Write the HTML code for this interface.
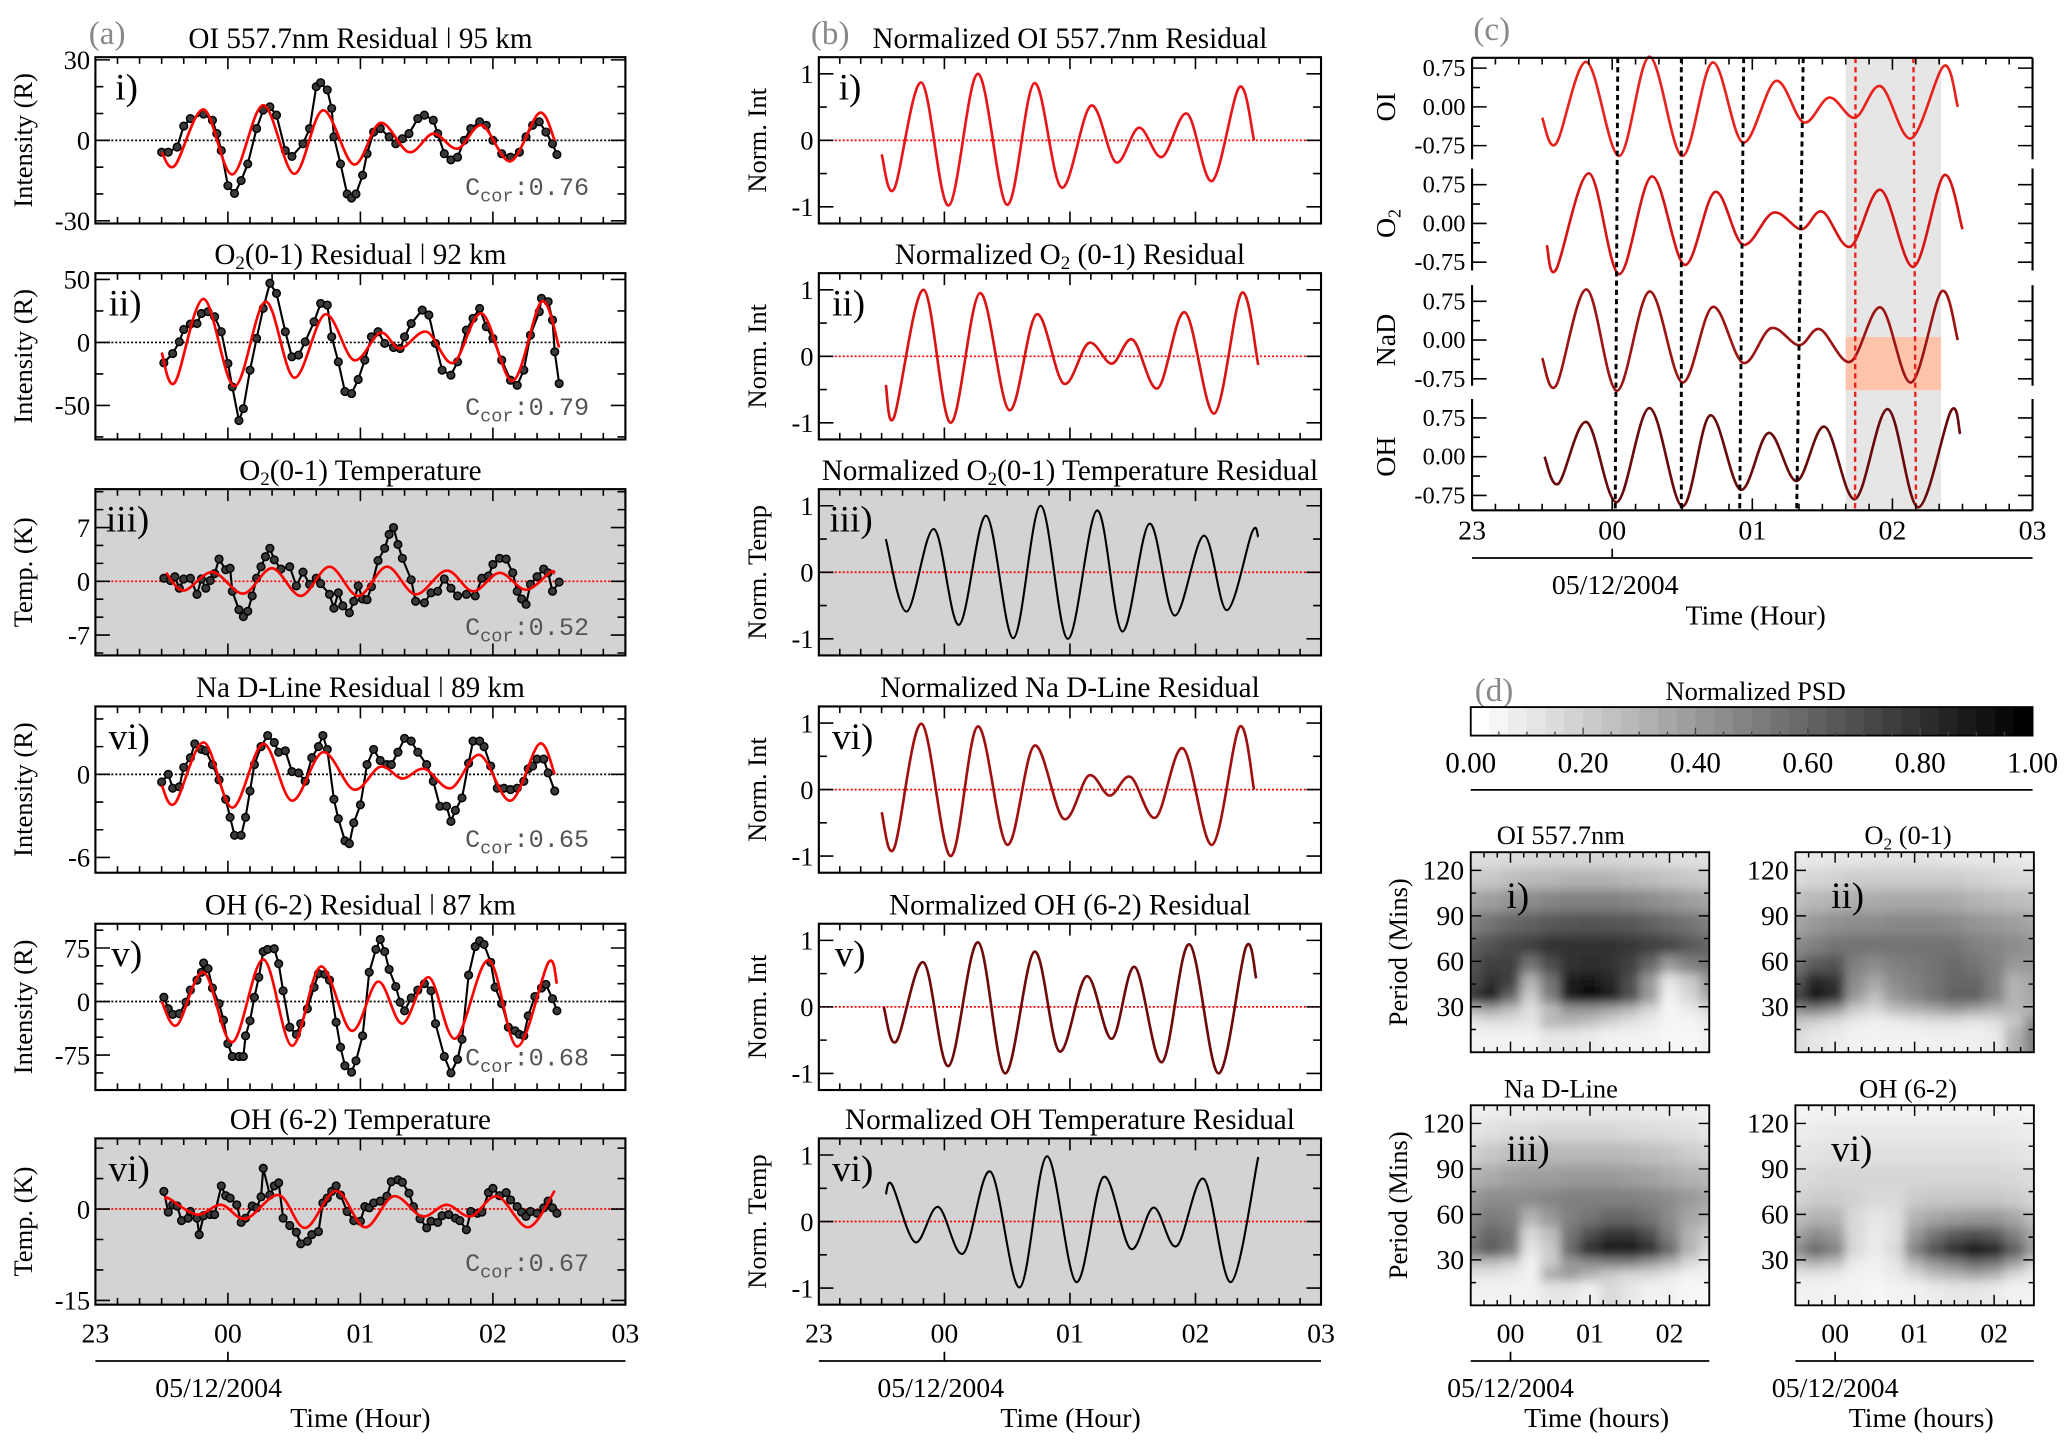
<!DOCTYPE html>
<html><head><meta charset="utf-8"><style>
html,body{margin:0;padding:0;background:#fff;}
svg{display:block;}
text{font-family:"Liberation Serif",serif;fill:#000;}
.mono{font-family:"Liberation Mono",monospace;fill:#555;}
.gl{fill:#888;}
</style></head><body>
<svg id="fig" xmlns="http://www.w3.org/2000/svg" width="2067" height="1446" viewBox="0 0 1560 1091">
<defs>
<filter id="hblur" x="-20%" y="-20%" width="140%" height="140%"><feGaussianBlur stdDeviation="4"/></filter>
</defs>
<text class="gl" x="67" y="33" font-size="25">(a)</text>
<text class="gl" x="612" y="33" font-size="25">(b)</text>
<text class="gl" x="1112" y="30" font-size="25">(c)</text>
<text class="gl" x="1113" y="529" font-size="25">(d)</text>
</svg>
<script>
// ===== Column (a): data (minutes after 23:00 UT) =====
const a1BlackT=[30,33,37,40,43,49,53,55,57,60,63,66,69,73,76,79,82,86,89,94,97,100,102,105,107,108,111,114,116,118,121,123,126,129,133,136,139,142,146,149,153,155,158,161,164,167,170,174,177,180,184,188,192,195,198,201,204,207,209];
const a1BlackV=[-4.4,-4.4,-2.5,5.3,8.1,9.8,7.5,2.5,-3.8,-16.9,-19.8,-15,-8.8,4.4,11.3,12.5,9.4,-3.8,-6,-1.3,4.4,20,21.5,18.8,11.9,1.3,-8.8,-20,-21.5,-20,-13,-5,3.1,4.4,1.3,-1.3,0.6,2.5,8.1,9.4,7.5,2.5,-5,-7.3,-6.3,0,4.4,6.9,5.6,0,-5,-6.3,-4.4,1.3,5.6,6.9,3.1,-1.3,-5.3];
const a1RedT=[30,36,49,62,76,90,103,117,129,142,153,164,175,188,201,208];
const a1RedV=[-4.4,-9.4,11.5,-12.7,13.1,-12.5,11.2,-9,6.5,-4.4,2.5,-3.1,5.6,-7.8,10.2,0];

const a2BlackT=[31,35,38,40,43,46,48,51,54,57,60,62,65,67,70,73,76,79,82,86,89,92,95,99,102,105,107,110,113,116,119,122,125,128,131,135,138,140,143,148,151,154,157,161,164,168,171,174,177,180,184,188,191,194,197,201,202,205,207,208,210];
const a2BlackV=[-16.2,-8.8,0.5,10.3,14.6,15,23,24.4,20.4,8.5,-16.7,-35.3,-62,-52.5,-22,3.2,27,47,39,8.5,-11.4,-10,0.5,16.4,31,29.7,4.5,-15.4,-39,-40.6,-29.4,-14,4.5,8.5,-0.8,-4,-4.8,4.5,15,25.7,21.8,-0.8,-22,-26,-15.4,9.8,19.1,27,12.5,3.2,-14,-30,-34,-22,5.8,24.4,35,32.4,17.8,-7.4,-32.6];
const a2RedT=[30,36,49,63,77,90,104,117,129,138,150,162,175,189,202,210];
const a2RedV=[-8,-31.8,34.5,-34.7,32.4,-28,22.3,-14,7.7,-4.8,8.5,-16.2,23,-30.5,32.4,-4];

const a3BlackT=[31,34,36,38,40,43,46,48,50,52,54,56,59,61,62,65,67,69,71,73,75,77,79,81,84,88,91,94,97,100,102,106,108,110,112,115,117,119,121,123,125,128,131,133,135,137,139,143,145,149,152,155,158,161,164,168,172,175,178,180,183,186,189,191,193,195,197,200,203,205,207,210];
const a3BlackV=[0.4,0.1,0.6,-0.9,0.3,0.4,-1.7,0.3,-0.9,0.1,1.0,2.9,1.5,1.7,-1.3,-3.7,-4.6,-3.9,-1.9,0.4,1.9,3.2,4.3,2.8,1.6,1.9,-0.6,1.2,-0.4,0.4,-0.3,-1.7,-3.5,-1.5,-3.2,-4.1,-2.6,-0.6,-2.3,-2.4,-0.7,2.7,4.3,6.1,7.0,4.8,3.0,0.2,-2.6,-2.8,-1.5,-1.3,0.3,-0.9,-1.9,-1.7,-1.9,0.4,0.7,2.2,3.0,2.9,1.1,-1.3,-2.3,-3.0,-0.4,0.6,1.6,1.1,-1.3,-0.1];
const a3RedT=[32,40,53,67,80,93,106,119,132,145,159,171,183,195,206,208];
const a3RedV=[1.1,-1.2,1.2,-1.6,1.7,-1.9,1.9,-1.9,1.9,-1.7,1.4,-1.3,1.1,-1.1,1.2,1.0];

const a4BlackT=[30,33,35,38,40,43,45,48,50,53,56,59,61,63,66,68,70,72,75,78,81,83,86,89,92,95,98,101,103,105,108,110,113,115,117,120,123,126,129,132,134,137,140,143,146,150,153,156,159,161,163,166,169,171,174,176,179,182,185,188,191,194,196,198,200,203,205,208];
const a4BlackV=[-0.55,0,-1.0,-0.9,0.5,1.2,2.2,1.8,1.7,0.7,-0.4,-1.8,-3.1,-4.4,-4.4,-3.1,-1.2,0.7,2.0,2.8,2.3,1.6,1.7,0.2,0.1,-0.5,1.2,2.0,2.8,1.8,-1.8,-3.2,-4.8,-5.0,-3.5,-2.2,0.7,1.8,1.0,0.7,0.7,1.6,2.6,2.4,1.6,0.7,-0.5,-2.3,-2.3,-3.4,-2.6,-1.7,0.8,2.4,2.4,2.0,0.6,-1.0,-1.0,-1.1,-1.0,-0.5,0.4,0.6,1.1,1.1,0.1,-1.2];
const a4RedT=[30,36,49,62,76,89,103,117,129,139,149,161,174,188,201,208];
const a4RedV=[-0.8,-2.1,2.3,-2.4,2.2,-1.9,1.6,-1.1,0.55,-0.3,0.4,-1.0,1.4,-1.9,2.2,0];

const a5BlackT=[31,33,35,38,41,43,46,48,49,51,53,56,58,60,62,65,67,68,70,72,74,76,78,81,83,85,88,91,93,96,99,101,104,106,109,111,113,116,118,121,124,127,129,131,133,136,138,140,143,146,149,152,154,158,161,164,166,169,172,174,176,179,181,184,187,190,192,194,196,199,202,204,207,209];
const a5BlackV=[6,-10,-18,-17,-1,16,30,41,54,46,19,-3,-26,-59,-77,-77,-77,-48,-27,6,34,70,73,74,53,15,-36,-46,-31,-10,20,39,38,30,-29,-64,-90,-99,-83,-48,41,73,87,70,45,21,-1,-13,5,16,25,15,-31,-77,-100,-81,-53,37,77,85,80,55,20,-3,-36,-41,-46,-48,-20,7,19,24,4,-13];
const a5RedT=[30,37,49,62,76,89,102,116,128,139,151,163,178,191,205,209];
const a5RedV=[0,-33,41,-57,59,-62,49,-41,28,-31,34,-52,58,-63,54,25];

const a6BlackT=[31,33,35,37,39,42,43,46,47,49,52,54,57,59,61,64,66,68,71,73,75,76,79,81,83,85,88,91,93,96,98,101,103,105,107,109,111,114,117,120,122,124,126,129,132,134,137,139,142,144,147,150,152,155,157,160,163,165,168,170,173,175,178,180,183,186,188,191,193,195,197,200,203,205,207,209];
const a6BlackV=[2.9,-0.5,0.7,0.5,-1.9,-1.5,-0.4,-1.5,-4.2,-1.1,-0.9,-0.9,3.8,2.2,1.8,0.7,-2.2,-1.5,0.5,0.2,2.0,6.7,2.3,3.8,4.3,-1.5,-2.7,-3.8,-5.7,-5.3,-4.2,-3.7,1.0,1.8,2.9,3.8,2.3,-0.4,-1.9,-2.0,0.4,0.2,1.0,1.3,2.1,4.5,4.8,4.4,2.6,0.4,-1.6,-3.1,-2.0,-2.2,-1.1,-0.9,-1.5,-1.9,-3.4,-0.4,-0.7,-0.5,2.7,3.4,2.2,2.7,1.5,0.4,-0.5,-1.2,-0.4,-0.7,0.2,1.3,0.2,-0.7];
const a6RedT=[32,33,46,57,68,83,95,109,122,135,148,159,170,182,196,208];
const a6RedV=[1.5,1.8,-0.9,0.7,-1.6,2.3,-3.1,3.0,-3.0,2.1,-1.2,0.7,-1.2,2.1,-3.0,3.0];

// ===== Column (b): normalized series =====
const b1T=[30,36,49,62,76,90,103,116,130,142,153,164,176,188,201,208];
const b1V=[-0.21,-0.73,0.87,-0.98,1.0,-0.97,0.86,-0.71,0.52,-0.33,0.19,-0.25,0.4,-0.61,0.8,0];
const b2T=[32,36,50,63,77,91,104,117,129,140,150,162,175,189,202,210];
const b2V=[-0.43,-0.91,1.0,-1.0,0.95,-0.81,0.63,-0.41,0.2,-0.11,0.25,-0.48,0.66,-0.86,0.95,-0.13];
const b3T=[32,42,55,67,80,93,106,119,133,145,158,170,184,195,207,210];
const b3V=[0.5,-0.59,0.65,-0.79,0.85,-0.99,1.0,-1.0,0.93,-0.89,0.73,-0.65,0.55,-0.57,0.6,0.53];
const b4T=[30,36,49,63,76,90,103,117,129,139,149,161,174,188,201,208];
const b4V=[-0.34,-0.88,0.99,-1.0,0.95,-0.83,0.66,-0.44,0.21,-0.09,0.19,-0.42,0.62,-0.83,0.94,0];
const b5T=[31,37,50,62,76,89,103,115,128,140,151,164,177,191,204,209];
const b5V=[0,-0.52,0.67,-0.89,0.97,-1.0,0.83,-0.67,0.46,-0.48,0.6,-0.83,0.94,-1.0,0.89,0.43];
const b6T=[32,35,46,57,69,82,96,109,123,136,149,160,171,184,197,210];
const b6V=[0.41,0.55,-0.31,0.22,-0.48,0.75,-0.99,0.98,-0.91,0.67,-0.41,0.21,-0.37,0.64,-0.91,0.97];

// ===== Column (c): stacked normalized series =====
const cOIT=[30,36,49,63,76,90,103,116,130,142,153,164,175,188,202,208];
const cOIV=[-0.21,-0.71,0.87,-0.95,0.97,-0.95,0.86,-0.69,0.5,-0.3,0.18,-0.21,0.4,-0.61,0.79,0];
const cO2T=[32,36,50,63,77,91,104,116,129,141,150,162,175,189,202,210];
const cO2V=[-0.42,-0.89,0.97,-0.98,0.91,-0.8,0.61,-0.41,0.21,-0.11,0.23,-0.45,0.65,-0.84,0.93,-0.11];
const cNaT=[30,36,49,62,76,90,103,116,128,140,149,162,175,188,201,208];
const cNaV=[-0.35,-0.88,0.98,-0.98,0.94,-0.82,0.64,-0.44,0.23,-0.1,0.21,-0.42,0.63,-0.82,0.94,0];
const cOHT=[31,37,49,62,76,90,102,115,127,139,151,164,178,191,205,209];
const cOHV=[0,-0.52,0.67,-0.88,0.94,-0.96,0.8,-0.64,0.46,-0.47,0.58,-0.82,0.92,-0.98,0.88,0.44];
const cBlackDashTop=[62.4,89.6,116.3,141.8];
const cBlackDashBot=[61.3,89.6,114.6,139.0];
const cRedDashTop=[164.2,189.0];
const cRedDashBot=[164.0,190.1];
const cShadeT=[160,200.8];
const cSalmonV=[0.06,-0.97];
const cTickVals=[0.75,0,-0.75];
const cTickLabels=['0.75','0.00','-0.75'];

// ===== Axis labels =====
const hourT=[0,60,120,180,240];
const hourLabels=['23','00','01','02','03'];
const hmHourT=[60,120,180];
const hmHourLabels=['00','01','02'];
const hmPeriodTicks=[120,90,60,30];
const cbTickVals=[0,0.2,0.4,0.6,0.8,1.0];
const cbTickLabels=['0.00','0.20','0.40','0.60','0.80','1.00'];

// ===== (d) wavelet power heatmaps =====
const hmTimes=[30,45,60,75,90,105,120,135,150,165,180,195,210];
const hmPeriods=[128,115,100,85,70,58,46,36,28,20,12];
const hmOI=[
[.12,.13,.14,.15,.16,.16,.16,.16,.15,.14,.13,.12,.12],
[.2,.22,.25,.27,.28,.3,.3,.3,.28,.26,.24,.22,.2],
[.35,.38,.42,.45,.48,.5,.5,.5,.48,.45,.42,.38,.35],
[.5,.55,.6,.62,.65,.67,.68,.67,.65,.62,.58,.55,.5],
[.62,.68,.72,.75,.8,.8,.8,.8,.78,.75,.72,.65,.6],
[.68,.75,.75,.55,.7,.8,.82,.8,.75,.6,.4,.5,.55],
[.7,.8,.75,.3,.55,.88,.9,.85,.7,.4,.1,.2,.4],
[.8,.9,.6,.2,.5,.92,.98,.9,.7,.4,.05,.15,.35],
[.3,.35,.25,.12,.25,.4,.4,.35,.28,.15,.04,.08,.15],
[.1,.12,.12,.1,.3,.3,.25,.18,.12,.08,.04,.04,.08],
[.05,.05,.05,.05,.1,.1,.08,.05,.05,.05,.03,.03,.05]];
const hmO2=[
[.08,.09,.1,.1,.11,.11,.11,.11,.1,.1,.1,.09,.08],
[.14,.16,.18,.2,.2,.2,.2,.2,.2,.18,.16,.15,.14],
[.25,.28,.3,.32,.33,.34,.34,.34,.33,.3,.28,.26,.25],
[.35,.4,.43,.45,.45,.47,.47,.47,.45,.42,.4,.38,.35],
[.45,.5,.55,.55,.55,.55,.55,.55,.55,.5,.48,.45,.42],
[.55,.65,.68,.5,.45,.5,.52,.55,.58,.55,.5,.4,.4],
[.65,.85,.8,.45,.35,.45,.5,.55,.6,.6,.5,.3,.35],
[.75,.95,.85,.4,.25,.4,.48,.55,.62,.62,.5,.3,.35],
[.45,.5,.4,.2,.15,.25,.3,.35,.4,.35,.3,.28,.3],
[.22,.18,.13,.08,.06,.08,.1,.12,.12,.1,.12,.22,.45],
[.15,.1,.08,.05,.05,.05,.05,.06,.06,.06,.08,.3,.5]];
const hmNa=[
[.06,.07,.08,.08,.09,.09,.09,.09,.09,.08,.08,.07,.06],
[.1,.12,.14,.15,.16,.16,.16,.16,.15,.14,.13,.12,.1],
[.18,.22,.25,.27,.28,.28,.28,.28,.27,.25,.23,.2,.18],
[.3,.33,.36,.38,.38,.4,.4,.4,.38,.36,.33,.3,.28],
[.4,.45,.45,.45,.48,.5,.5,.5,.5,.48,.45,.4,.35],
[.45,.52,.5,.3,.4,.5,.55,.6,.6,.55,.45,.35,.3],
[.5,.6,.55,.15,.25,.55,.7,.8,.8,.7,.5,.3,.2],
[.55,.65,.55,.1,.2,.6,.85,.95,.95,.85,.6,.3,.15],
[.25,.25,.2,.05,.2,.4,.45,.5,.5,.4,.3,.15,.08],
[.1,.1,.08,.05,.35,.4,.3,.2,.15,.15,.1,.05,.05],
[.05,.05,.05,.05,.1,.1,.05,.15,.1,.05,.05,.03,.03]];
const hmOH=[
[.04,.05,.05,.05,.05,.05,.05,.05,.05,.05,.05,.05,.04],
[.07,.08,.09,.09,.09,.09,.09,.09,.09,.09,.09,.08,.07],
[.1,.11,.12,.12,.12,.12,.12,.12,.12,.12,.12,.11,.1],
[.13,.15,.16,.16,.16,.16,.16,.16,.16,.16,.16,.15,.13],
[.16,.2,.2,.18,.15,.15,.2,.22,.22,.22,.22,.2,.16],
[.25,.3,.3,.15,.1,.12,.3,.35,.38,.4,.4,.35,.25],
[.35,.45,.4,.15,.08,.12,.4,.55,.65,.7,.65,.5,.35],
[.45,.6,.5,.15,.08,.15,.5,.7,.85,1,.9,.65,.4],
[.25,.3,.25,.08,.06,.1,.3,.42,.5,.6,.55,.38,.2],
[.1,.1,.08,.05,.05,.08,.15,.25,.3,.35,.3,.15,.08],
[.05,.05,.05,.05,.03,.05,.05,.08,.1,.1,.08,.05,.05]];

// ===== helpers =====
const NS='http://www.w3.org/2000/svg';
const svg=document.getElementById('fig');
function mk(tag,attrs,parent){const e=document.createElementNS(NS,tag);for(const k in attrs)e.setAttribute(k,attrs[k]);(parent||svg).appendChild(e);return e;}
function f(v){return v.toFixed(2);}
function splinePath(pts){
  let d='M'+f(pts[0][0])+','+f(pts[0][1]);
  for(let i=0;i<pts.length-1;i++){
    const p0=pts[i-1]||pts[i],p1=pts[i],p2=pts[i+1],p3=pts[i+2]||pts[i+1];
    const c1x=p1[0]+(p2[0]-p0[0])/6,c1y=p1[1]+(p2[1]-p0[1])/6;
    const c2x=p2[0]-(p3[0]-p1[0])/6,c2y=p2[1]-(p3[1]-p1[1])/6;
    d+='C'+f(c1x)+','+f(c1y)+' '+f(c2x)+','+f(c2y)+' '+f(p2[0])+','+f(p2[1]);
  }
  return d;
}
function addText(str,x,y,size,anchor,name,cls){
  const t=mk('text',{x:x,y:y,'font-size':size,'text-anchor':anchor||'start'});
  if(cls)t.setAttribute('class',cls);
  t.textContent=str;
  
  
  return t;
}
function addRichTitle(parts,x,y,size,name){
  const t=mk('text',{x:x,y:y,'font-size':size,'text-anchor':'middle'});
  
  
  parts.forEach(p=>{const s=mk('tspan',{},t);s.textContent=p[0];if(p[1]){s.setAttribute('font-size',size*0.65);s.setAttribute('dy',4);}else if(p[2]){s.setAttribute('dy',-4);}});
  return t;
}
function addRotLabel(parts,cx,cy,size,name){
  const t=mk('text',{x:0,y:0,'font-size':size,'text-anchor':'middle',transform:'translate('+cx+','+cy+') rotate(-90)'});
  
  
  parts.forEach(p=>{const s=mk('tspan',{},t);s.textContent=p[0];if(p[1]){s.setAttribute('font-size',size*0.65);s.setAttribute('dy',4);}else if(p[2]){s.setAttribute('dy',-4);}});
  return t;
}

// generic time-series panel
function tsPanel(cfg){
  const x0=cfg.x0,x1=cfg.x1,top=cfg.top,h=cfg.h,bot=top+h;
  const xs=m=>x0+m*(x1-x0)/240;
  const ys=v=>bot-(v-cfg.ymin)*h/(cfg.ymax-cfg.ymin);
  const g=mk('g',{});
  
  
  const bg=mk('rect',{x:x0,y:top,width:x1-x0,height:h,fill:cfg.bg},g);
  
  
  const z=mk('line',{x1:x0,x2:x1,y1:ys(0),y2:ys(0),stroke:cfg.zeroColor,'stroke-width':1.3,'stroke-dasharray':'1.5,1.5'},g);
  
  
  for(let m=10;m<240;m+=10){
    const L=(m%60===0)?9:5;
    const tk=mk('path',{d:'M'+xs(m)+','+bot+'v-'+L+'M'+xs(m)+','+top+'v'+L,stroke:'#000','stroke-width':1.2},g);
    
    
  }
  const st=cfg.minor;
  for(let k=Math.ceil(cfg.ymin/st-1e-6);k<=Math.floor(cfg.ymax/st+1e-6);k++){
    const v=k*st;const isMaj=cfg.major.some(q=>Math.abs(q-v)<1e-6);const L=isMaj?11:6;
    const tk=mk('path',{d:'M'+x0+','+ys(v)+'h'+L+'M'+x1+','+ys(v)+'h-'+L,stroke:'#000','stroke-width':1.2},g);
    
    
  }
  cfg.major.forEach((v,i)=>{
    addText(cfg.majorLabels[i],x0-4,ys(v)+7,20,'end','y-tick-label');
  });
  cfg.series.forEach(s=>{
    const pts=s.t.map((m,i)=>[xs(m),ys(s.v[i])]);
    if(s.kind==='dots'){
      const pl=mk('polyline',{points:pts.map(p=>f(p[0])+','+f(p[1])).join(' '),fill:'none',stroke:'#000','stroke-width':1.6},g);
      
      
      pts.forEach(p=>{
        const c=mk('circle',{cx:f(p[0]),cy:f(p[1]),r:2.9,fill:'#3a3a3a',stroke:'#000','stroke-width':1.1},g);
        
        
      });
    }else{
      const pa=mk('path',{d:splinePath(pts),fill:'none',stroke:s.color,'stroke-width':s.w||2,'stroke-linejoin':'round'},g);
      
      
    }
  });
  const fr=mk('rect',{x:x0,y:top,width:x1-x0,height:h,fill:'none',stroke:'#000','stroke-width':1.6},g);
  
  
  addText(cfg.tag,x0+(cfg.tagDx||15),top+32,28,'start','subpanel-label');
  if(cfg.ccor){
    const t=mk('text',{x:x0+279,y:top+cfg.ccorDy,'font-size':19,class:'mono'});
    
    
    const s1=mk('tspan',{},t);s1.textContent='C';
    const s2=mk('tspan',{dy:5,'font-size':14},t);s2.textContent='cor';
    const s3=mk('tspan',{dy:-5},t);s3.textContent=':'+cfg.ccor;
  }
  addRichTitle(cfg.title,(x0+x1)/2,top-7,22,'panel-title');
  addRotLabel(cfg.ylabel,cfg.ylabelX,top+h/2,20,'y-axis-title');
}
function timeAxis(x0,x1,labelsT,labels,lineY,name,dateX,dateLabelX,timeLabel,timeX,tickM,span,startM){
  const xs=m=>x0+(m-startM)*(x1-x0)/span;
  labelsT.forEach((m,i)=>addText(labels[i],xs(m),lineY-14,21,'middle','x-tick-label'));
  const ln=mk('path',{d:'M'+x0+','+lineY+'H'+x1+'M'+xs(tickM)+','+lineY+'v-7',stroke:'#000','stroke-width':1.3});
  
  
  addText('05/12/2004',dateLabelX,lineY+27,21,'middle','date-label');
  addText(timeLabel,timeX,lineY+50,21,'middle','x-axis-title');
}

// ===== draw column (a) =====
const aTops=[43,206,369,533,697,859];
const A={x0:72,x1:472,h:125.5,ylabelX:24};
const aCfgs=[
 {name:'oi-residual-panel',ymin:-31,ymax:31,major:[30,0,-30],majorLabels:['30','0','-30'],minor:10,bg:'#fff',zeroColor:'#000',tag:'i)',ccor:'0.76',ccorDy:104,title:[['OI 557.7nm Residual  ǀ  95 km']],ylabel:[['Intensity (R)']],series:[{t:a1BlackT,v:a1BlackV,kind:'dots'},{t:a1RedT,v:a1RedV,color:'#f00',name:'model-fit-line'}]},
 {name:'o2-residual-panel',ymin:-77,ymax:55,major:[50,0,-50],majorLabels:['50','0','-50'],minor:25,bg:'#fff',zeroColor:'#000',tag:'ii)',tagDx:10,ccor:'0.79',ccorDy:107,title:[['O'],['2',1],['(0-1) Residual  ǀ  92 km',0,1]],ylabel:[['Intensity (R)']],series:[{t:a2BlackT,v:a2BlackV,kind:'dots'},{t:a2RedT,v:a2RedV,color:'#f00',name:'model-fit-line'}]},
 {name:'o2-temperature-panel',ymin:-9.65,ymax:12,major:[7,0,-7],majorLabels:['7','0','-7'],minor:7/3,bg:'#d3d3d3',zeroColor:'#f00',tag:'iii)',tagDx:8,ccor:'0.52',ccorDy:110,title:[['O'],['2',1],['(0-1) Temperature',0,1]],ylabel:[['Temp. (K)']],series:[{t:a3BlackT,v:a3BlackV,kind:'dots'},{t:a3RedT,v:a3RedV,color:'#f00',name:'model-fit-line'}]},
 {name:'na-residual-panel',ymin:-7.1,ymax:4.9,major:[0,-6],majorLabels:['0','-6'],minor:2,bg:'#fff',zeroColor:'#000',tag:'vi)',tagDx:10,ccor:'0.65',ccorDy:106,title:[['Na D-Line Residual  ǀ  89 km']],ylabel:[['Intensity (R)']],series:[{t:a4BlackT,v:a4BlackV,kind:'dots'},{t:a4RedT,v:a4RedV,color:'#f00',name:'model-fit-line'}]},
 {name:'oh-residual-panel',ymin:-124,ymax:109,major:[75,0,-75],majorLabels:['75','0','-75'],minor:25,bg:'#fff',zeroColor:'#000',tag:'v)',tagDx:12,ccor:'0.68',ccorDy:107,title:[['OH (6-2) Residual  ǀ  87 km']],ylabel:[['Intensity (R)']],series:[{t:a5BlackT,v:a5BlackV,kind:'dots'},{t:a5RedT,v:a5RedV,color:'#f00',name:'model-fit-line'}]},
 {name:'oh-temperature-panel',ymin:-15.7,ymax:11.6,major:[0,-15],majorLabels:['0','-15'],minor:5,bg:'#d3d3d3',zeroColor:'#f00',tag:'vi)',tagDx:10,ccor:'0.67',ccorDy:100,title:[['OH (6-2) Temperature']],ylabel:[['Temp. (K)']],series:[{t:a6BlackT,v:a6BlackV,kind:'dots'},{t:a6RedT,v:a6RedV,color:'#f00',name:'model-fit-line'}]}
];
aCfgs.forEach((c,i)=>tsPanel(Object.assign({},A,c,{top:aTops[i]})));
timeAxis(72,472,hourT,hourLabels,1027,'time-axis-a',0,165,'Time (Hour)',272,60,240,0);

// ===== draw column (b) =====
const B={x0:618,x1:997,h:125.5,ylabelX:578,ymin:-1.25,ymax:1.25,major:[1,0,-1],majorLabels:['1','0','-1'],minor:0.5,zeroColor:'#f00'};
const bCfgs=[
 {name:'norm-oi-panel',bg:'#fff',tag:'i)',title:[['Normalized OI 557.7nm Residual']],ylabel:[['Norm. Int']],series:[{t:b1T,v:b1V,color:'#e8161b',name:'norm-oi-line'}]},
 {name:'norm-o2-panel',bg:'#fff',tag:'ii)',tagDx:10,title:[['Normalized O'],['2',1],[' (0-1) Residual',0,1]],ylabel:[['Norm. Int']],series:[{t:b2T,v:b2V,color:'#d81414',name:'norm-o2-line'}]},
 {name:'norm-o2-temp-panel',bg:'#d3d3d3',tag:'iii)',tagDx:8,title:[['Normalized O'],['2',1],['(0-1) Temperature Residual',0,1]],ylabel:[['Norm. Temp']],series:[{t:b3T,v:b3V,color:'#000',w:1.6,name:'norm-o2-temp-line'}]},
 {name:'norm-na-panel',bg:'#fff',tag:'vi)',tagDx:10,title:[['Normalized Na D-Line Residual']],ylabel:[['Norm. Int']],series:[{t:b4T,v:b4V,color:'#a01010',name:'norm-na-line'}]},
 {name:'norm-oh-panel',bg:'#fff',tag:'v)',tagDx:12,title:[['Normalized OH (6-2) Residual']],ylabel:[['Norm. Int']],series:[{t:b5T,v:b5V,color:'#6e0a0a',name:'norm-oh-line'}]},
 {name:'norm-oh-temp-panel',bg:'#d3d3d3',tag:'vi)',tagDx:10,title:[['Normalized OH Temperature Residual']],ylabel:[['Norm. Temp']],series:[{t:b6T,v:b6V,color:'#000',w:1.6,name:'norm-oh-temp-line'}]}
];
bCfgs.forEach((c,i)=>tsPanel(Object.assign({},B,c,{top:aTops[i]})));
timeAxis(618,997,hourT,hourLabels,1027,'time-axis-b',0,710,'Time (Hour)',808,60,240,0);

// ===== draw column (c) =====
(function(){
  const x0=1111,x1=1534,top=43.5,bot=385;
  const xs=m=>x0+m*(x1-x0)/240;
  const centers=[80.5,168.5,256.5,344.5];
  const segs=[[43.5,120],[127,204],[215,291],[301,385]];
  const k=39;
  const g=mk('g',{});
  
  
  const sh=mk('rect',{x:xs(cShadeT[0]),y:top,width:xs(cShadeT[1])-xs(cShadeT[0]),height:bot-top,fill:'#e6e6e6'},g);
  
  
  const sa=mk('rect',{x:xs(cShadeT[0]),y:centers[2]-cSalmonV[0]*k,width:xs(cShadeT[1])-xs(cShadeT[0]),height:(cSalmonV[0]-cSalmonV[1])*k,fill:'#fdc3ab'},g);
  
  
  const series=[[cOIT,cOIV,'#e8231e','oi-line'],[cO2T,cO2V,'#d51515','o2-line'],[cNaT,cNaV,'#9c1414','nad-line'],[cOHT,cOHV,'#6a0b0b','oh-line']];
  const names=[[['OI']],[['O'],['2',1]],[['NaD']],[['OH']]];
  series.forEach((s,i)=>{
    const cy=centers[i];
    const pts=s[0].map((m,j)=>[xs(m),cy-s[1][j]*k]);
    const p=mk('path',{d:splinePath(pts),fill:'none',stroke:s[2],'stroke-width':2},g);
    
    
    cTickVals.forEach((v,j)=>{
      const tk=mk('path',{d:'M'+x0+','+(cy-v*k)+'h11M'+x1+','+(cy-v*k)+'h-11',stroke:'#000','stroke-width':1.2},g);
      
      
      addText(cTickLabels[j],x0-5,cy-v*k+6,18.5,'end','y-tick-label');
    });
    [0.375,-0.375].forEach(v=>{
      const tk=mk('path',{d:'M'+x0+','+(cy-v*k)+'h6M'+x1+','+(cy-v*k)+'h-6',stroke:'#000','stroke-width':1.2},g);
      
      
    });
    const sg=mk('path',{d:'M'+x0+','+segs[i][0]+'V'+segs[i][1]+'M'+x1+','+segs[i][0]+'V'+segs[i][1],stroke:'#000','stroke-width':1.6},g);
    
    
    addRotLabel(names[i],1053,cy,21,'series-axis-title');
  });
  cBlackDashTop.forEach((m,i)=>{
    const l=mk('line',{x1:xs(m),y1:top,x2:xs(cBlackDashBot[i]),y2:bot,stroke:'#000','stroke-width':2.2,'stroke-dasharray':'4,3'},g);
    
    
  });
  cRedDashTop.forEach((m,i)=>{
    const l=mk('line',{x1:xs(m),y1:top,x2:xs(cRedDashBot[i]),y2:bot,stroke:'#e8231e','stroke-width':1.8,'stroke-dasharray':'4,3'},g);
    
    
  });
  for(let m=10;m<240;m+=10){
    const L=(m%60===0)?9:5;
    const tk=mk('path',{d:'M'+xs(m)+','+bot+'v-'+L+'M'+xs(m)+','+top+'v'+L,stroke:'#000','stroke-width':1.2},g);
    
    
  }
  const fr=mk('path',{d:'M'+x0+','+top+'H'+x1+'M'+x0+','+bot+'H'+x1,stroke:'#000','stroke-width':1.6},g);
  
  
  timeAxis(x0,x1,hourT,hourLabels,421,'time-axis-c',0,1219,'Time (Hour)',1325,60,240,0);
})();

// ===== (d) colorbar =====
(function(){
  const x0=1110,x1=1534,y0=533.5,y1=555;
  addText('Normalized PSD',1325,528,20,'middle','colorbar-title');
  const n=30;
  for(let i=0;i<n;i++){
    const v=i/(n-1);const gv=Math.round(255*(1-v));
    const r=mk('rect',{x:x0+i*(x1-x0)/n,y:y0,width:(x1-x0)/n+0.6,height:y1-y0,fill:'rgb('+gv+','+gv+','+gv+')'});
    
    
  }
  const fr=mk('rect',{x:x0,y:y0,width:x1-x0,height:y1-y0,fill:'none',stroke:'#000','stroke-width':1.4});
  
  
  for(let v=0.05;v<1;v+=0.05){
    const isMaj=Math.abs(v*5-Math.round(v*5))<1e-6;
    const tk=mk('path',{d:'M'+(x0+v*(x1-x0))+','+y1+'v-'+(isMaj?6:3),stroke:'#444','stroke-width':1});
    
    
  }
  cbTickVals.forEach((v,i)=>addText(cbTickLabels[i],x0+v*(x1-x0),583,22,'middle','colorbar-tick-label'));
  const ln=mk('line',{x1:x0,x2:x1,y1:596,y2:596,stroke:'#000','stroke-width':1.3});
  
  
})();

// ===== (d) heatmaps =====
function heatmap(cfg){
  const x0=cfg.x0,x1=cfg.x0+180,top=cfg.top,bot=cfg.top+151;
  const xs=m=>x0+(m-30)*(x1-x0)/180;
  const ys=p=>bot-p*(bot-top)/132;
  const clipId='clip-'+cfg.name;
  const cp=mk('clipPath',{id:clipId});
  mk('rect',{x:x0,y:top,width:x1-x0,height:bot-top},cp);
  const outer=mk('g',{'clip-path':'url(#'+clipId+')'});
  
  
  mk('rect',{x:x0,y:top,width:x1-x0,height:bot-top,fill:'#fff'},outer);
  const inner=mk('g',{filter:'url(#hblur)'},outer);
  const P=hmPeriods,T=hmTimes;
  for(let r=0;r<P.length;r++){
    const pTop=r===0?P[0]+40:(P[r-1]+P[r])/2;
    const pBot=r===P.length-1?-30:(P[r]+P[r+1])/2;
    for(let c=0;c<T.length;c++){
      const tL=c===0?T[0]-40:(T[c-1]+T[c])/2;
      const tR=c===T.length-1?T[c]+40:(T[c]+T[c+1])/2;
      const gv=Math.round(255*(1-cfg.data[r][c]));
      const cell=mk('rect',{x:f(xs(tL)),y:f(ys(pTop)),width:f(xs(tR)-xs(tL)+0.5),height:f(ys(pBot)-ys(pTop)+0.5),fill:'rgb('+gv+','+gv+','+gv+')'},inner);
      
      
    }
  }
  const g=mk('g',{});
  
  
  for(let m=40;m<210;m+=10){
    const L=(m%60===0)?8:4;
    const tk=mk('path',{d:'M'+xs(m)+','+bot+'v-'+L+'M'+xs(m)+','+top+'v'+L,stroke:'#000','stroke-width':1.1},g);
    
    
  }
  for(let p=15;p<=130;p+=15){
    const L=(p%30===0)?8:4;
    const tk=mk('path',{d:'M'+x0+','+ys(p)+'h'+L+'M'+x1+','+ys(p)+'h-'+L,stroke:'#000','stroke-width':1.1},g);
    
    
  }
  hmPeriodTicks.forEach(p=>addText(String(p),x0-5,ys(p)+7,21,'end','y-tick-label'));
  const fr=mk('rect',{x:x0,y:top,width:x1-x0,height:bot-top,fill:'none',stroke:'#000','stroke-width':1.4},g);
  
  
  addText(cfg.tag,x0+27,top+42,28,'start','subpanel-label');
  addRichTitle(cfg.title,cfg.titleX,top-6,20,'heatmap-title');
  if(cfg.ylabel)addRotLabel([['Period (Mins)']],1062,(top+bot)/2,20,'y-axis-title');
  if(cfg.axis)timeAxis(x0,x1,hmHourT,hmHourLabels,1027,'time-axis-d',0,x0+30,'Time (hours)',x0+95,60,180,30);
}
heatmap({name:'psd-oi',x0:1110,top:643,data:hmOI,tag:'i)',title:[['OI 557.7nm']],titleX:1178,ylabel:true});
heatmap({name:'psd-o2',x0:1355,top:643,data:hmO2,tag:'ii)',title:[['O'],['2',1],[' (0-1)',0,1]],titleX:1440});
heatmap({name:'psd-na',x0:1110,top:834,data:hmNa,tag:'iii)',title:[['Na D-Line']],titleX:1178,ylabel:true,axis:true});
heatmap({name:'psd-oh',x0:1355,top:834,data:hmOH,tag:'vi)',title:[['OH (6-2)']],titleX:1440,axis:true});
</script>
</body></html>
